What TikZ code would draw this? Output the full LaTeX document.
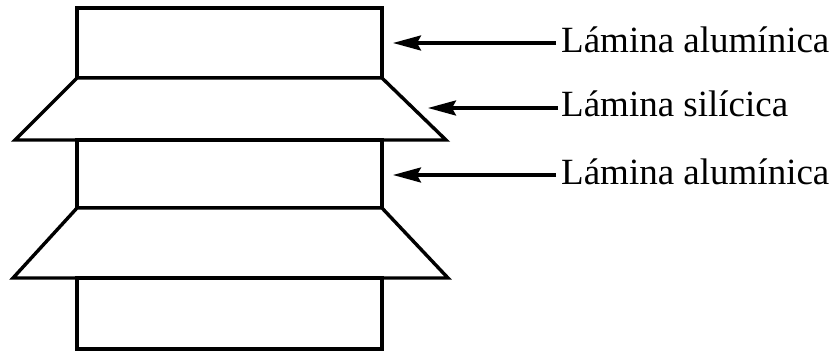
\documentclass[tikz,border=0pt]{standalone}
\usepackage{fontspec}
\setmainfont{Liberation Serif}
\usetikzlibrary{arrows.meta}
\begin{document}
\begin{tikzpicture}[x=1pt,y=-1pt,
  layer/.style={draw=black,line width=3.4pt,line join=miter,fill=white},
  pointer/.style={draw=black,line width=3.2pt,-{Stealth[length=28pt,width=15pt,inset=4pt]}},
  caption/.style={anchor=base west,inner sep=0pt,font=\fontsize{37}{42}\selectfont}]
\useasboundingbox (0,0) rectangle (837,352);
% octahedral and tetrahedral sheets stacked
\draw[layer] (77,8) rectangle (382,78);
\draw[layer] (77,78) -- (382,78) -- (446,140) -- (15,140) -- cycle;
\draw[layer] (77,140) rectangle (382,208);
\draw[layer] (77,208) -- (382,208) -- (448,278) -- (13,278) -- cycle;
\draw[layer] (77,278) rectangle (382,349);
% arrow targets
\coordinate (t1) at (393,43);
\coordinate (t2) at (428,108);
\coordinate (t3) at (393,175);
% labels
\node[caption] (l1) at (561,53) {Lámina alumínica};
\node[caption] (l2) at (561,117) {Lámina silícica};
\node[caption] (l3) at (561,185) {Lámina alumínica};
\draw[pointer] ([xshift=-5pt]l1.west |- t1) -- (t1);
\draw[pointer] ([xshift=-3pt]l2.west |- t2) -- (t2);
\draw[pointer] ([xshift=-5pt]l3.west |- t3) -- (t3);
\end{tikzpicture}
\end{document}
